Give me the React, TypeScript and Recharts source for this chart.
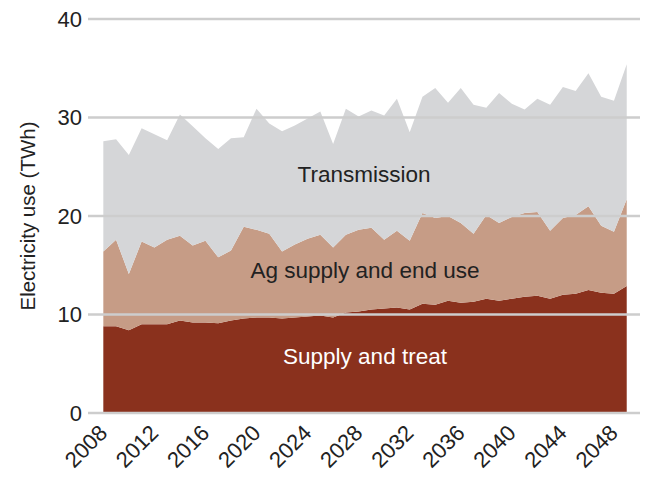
import { Area, AreaChart, ReferenceLine, XAxis, YAxis } from "recharts"

// Years (one point per year)
const years = [
  2008, 2009, 2010, 2011, 2012, 2013, 2014, 2015, 2016, 2017, 2018, 2019, 2020, 2021,
  2022, 2023, 2024, 2025, 2026, 2027, 2028, 2029, 2030, 2031, 2032, 2033, 2034, 2035,
  2036, 2037, 2038, 2039, 2040, 2041, 2042, 2043, 2044, 2045, 2046, 2047, 2048, 2049,
]

// TWh per series (stacked bottom → top)
const supplyTreat = [
  8.8, 8.8, 8.4, 9.0, 9.0, 9.0, 9.4, 9.2, 9.2, 9.1, 9.4, 9.6, 9.7, 9.7, 9.6, 9.7, 9.8,
  9.9, 9.7, 10.2, 10.3, 10.5, 10.6, 10.7, 10.5, 11.1, 11.0, 11.4, 11.2, 11.3, 11.6, 11.4,
  11.6, 11.8, 11.9, 11.6, 12.0, 12.1, 12.5, 12.2, 12.1, 12.9,
]
const agSupply = [
  7.6, 8.8, 5.7, 8.4, 7.8, 8.6, 8.6, 7.8, 8.3, 6.7, 7.1, 9.3, 8.9, 8.5, 6.8, 7.4, 7.9,
  8.2, 7.1, 7.9, 8.3, 8.3, 7.0, 7.8, 7.0, 9.2, 8.8, 8.6, 8.1, 6.9, 8.5, 7.9, 8.3, 8.5,
  8.5, 6.9, 7.8, 8.0, 8.5, 6.8, 6.3, 8.8,
]
const transmission = [
  11.2, 10.2, 12.1, 11.5, 11.5, 10.1, 12.3, 12.1, 10.4, 11.0, 11.4, 9.1, 12.3, 11.2,
  12.2, 12.1, 12.2, 12.5, 10.5, 12.8, 11.5, 11.9, 12.6, 13.4, 11.0, 11.8, 13.2, 11.5,
  13.7, 13.1, 10.9, 13.2, 11.5, 10.5, 11.5, 12.8, 13.3, 12.6, 13.5, 13.1, 13.3, 13.7,
]

const xTicks = [2008, 2012, 2016, 2020, 2024, 2028, 2032, 2036, 2040, 2044, 2048]
const yTicks = [0, 10, 20, 30, 40]

const data = years.map((year, i) => ({
  year,
  supply: supplyTreat[i],
  ag: agSupply[i],
  trans: transmission[i],
}))

const font = '"Liberation Sans", Arial, Helvetica, sans-serif'
const ink = "#222222"

function YearTick({ x, y, payload }: any) {
  return (
    <text
      x={x}
      y={y}
      transform={`rotate(-45 ${x} ${y})`}
      textAnchor="end"
      dominantBaseline="central"
      fill={ink}
      style={{ fontSize: 22, fontFamily: font }}
    >
      {payload.value}
    </text>
  )
}

export default function App() {
  return (
    <div style={{ position: "absolute", left: 0, top: 0, width: 648, height: 479, background: "#fff" }}>
      <AreaChart
        width={648}
        height={479}
        data={data}
        margin={{ top: 19, right: 8, bottom: 0, left: 0 }}
      >
        <XAxis
          type="number"
          dataKey="year"
          domain={[2006.8, 2050.04]}
          ticks={xTicks}
          axisLine={false}
          tickLine={false}
          tickSize={0}
          tickMargin={16}
          height={66}
          interval={0}
          tick={<YearTick />}
        />
        <YAxis
          domain={[0, 40]}
          ticks={yTicks}
          axisLine={false}
          tickLine={false}
          tickSize={0}
          tickMargin={6}
          width={88}
          tick={{ fontSize: 22, fill: ink, fontFamily: font }}
        />
        <Area
          type="linear"
          dataKey="supply"
          stackId="a"
          stroke="none"
          fill="#8a311d"
          fillOpacity={1}
          isAnimationActive={false}
        />
        <Area
          type="linear"
          dataKey="ag"
          stackId="a"
          stroke="none"
          fill="#c69c86"
          fillOpacity={1}
          isAnimationActive={false}
        />
        <Area
          type="linear"
          dataKey="trans"
          stackId="a"
          stroke="none"
          fill="#d5d6d8"
          fillOpacity={1}
          isAnimationActive={false}
        />
        {yTicks.map((t) => (
          <ReferenceLine key={t} y={t} stroke="#cdcdcd" strokeWidth={2.5} />
        ))}
      </AreaChart>

      {/* series labels + y title */}
      <svg
        width={648}
        height={479}
        style={{ position: "absolute", left: 0, top: 0, pointerEvents: "none" }}
      >
        <text x={35} y={216} transform="rotate(-90 35 216)" textAnchor="middle" fill={ink} style={{ fontSize: 20.5, fontFamily: font }}>
          Electricity use (TWh)
        </text>
        <text x={364} y={182} textAnchor="middle" fill={ink} style={{ fontSize: 22.5, fontFamily: font }}>
          Transmission
        </text>
        <text x={365} y={278} textAnchor="middle" fill={ink} style={{ fontSize: 22.5, fontFamily: font }}>
          Ag supply and end use
        </text>
        <text x={365} y={364} textAnchor="middle" fill="#ffffff" style={{ fontSize: 22.5, fontFamily: font }}>
          Supply and treat
        </text>
      </svg>
    </div>
  )
}
